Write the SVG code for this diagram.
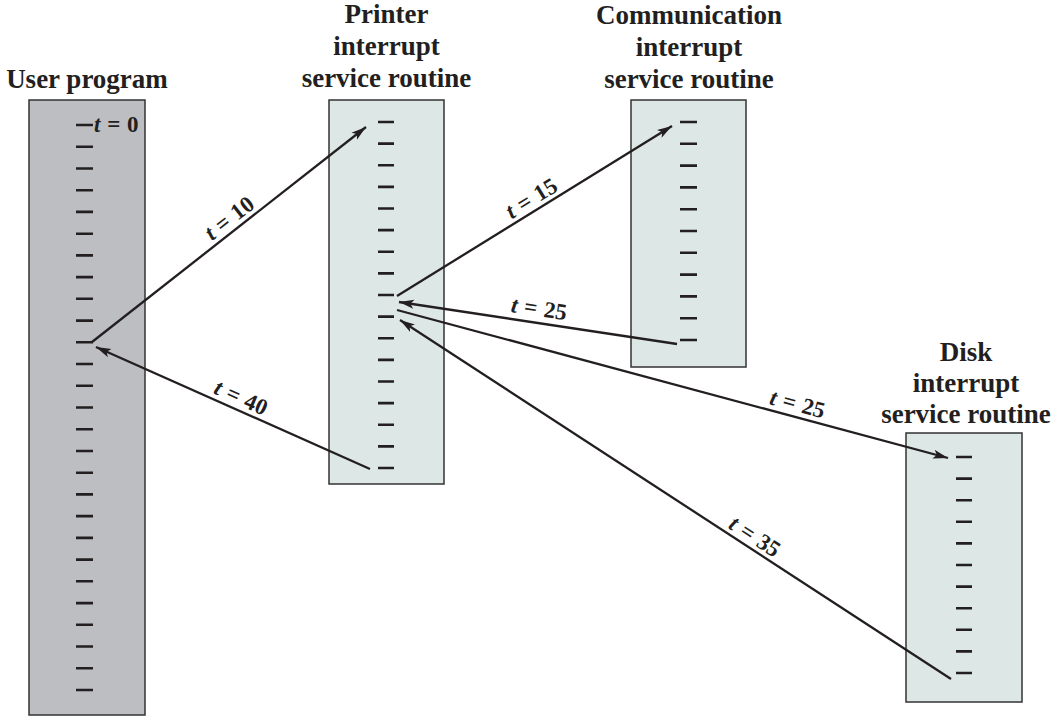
<svg xmlns="http://www.w3.org/2000/svg" width="1058" height="716" viewBox="0 0 1058 716">
<style>
.title{font-family:"Liberation Serif","Times New Roman",serif;font-weight:bold;font-size:27px;fill:#231f20;text-anchor:middle}
.lbl{font-family:"Liberation Serif","Times New Roman",serif;font-weight:bold;font-size:23px;word-spacing:1px;fill:#231f20;text-anchor:middle}
.it{font-style:italic}
.box{stroke:#333;stroke-width:1.5}
.ticks{stroke:#231f20;stroke-width:2.6;fill:none}
.conn{stroke:#231f20;stroke-width:2.3;fill:none}
</style>
<defs>
<marker id="ah" markerUnits="userSpaceOnUse" markerWidth="16" markerHeight="10" refX="15" refY="5" orient="auto">
<path d="M0,0.5 L15,5 L0,9.5 L3.5,5 z" fill="#231f20"/>
</marker>
</defs>
<rect width="1058" height="716" fill="#fff"/>
<g id="user-program">
<rect class="box" x="29" y="100" width="116" height="615" fill="#bdbec2"/>
<text class="title" x="87" y="88">User program</text>
<path class="ticks" d="M76 125h17M76 146.7h17M76 168.5h17M76 190.2h17M76 211.9h17M76 233.7h17M76 255.4h17M76 277.1h17M76 298.8h17M76 320.6h17M76 342.3h17M76 364h17M76 385.8h17M76 407.5h17M76 429.2h17M76 451h17M76 472.7h17M76 494.4h17M76 516.1h17M76 537.9h17M76 559.6h17M76 581.3h17M76 603.1h17M76 624.8h17M76 646.5h17M76 668.3h17M76 690h17"/>
<text class="lbl" x="94" y="132" style="text-anchor:start"><tspan class="it">t</tspan> = 0</text>
</g>
<g id="printer-isr">
<rect class="box" x="329" y="100" width="115" height="384" fill="#dde7e6"/>
<text class="title" x="386.5" y="23">Printer</text>
<text class="title" x="386.5" y="55">interrupt</text>
<text class="title" x="386.5" y="87">service routine</text>
<path class="ticks" d="M378 122h16M378 143.6h16M378 165.3h16M378 186.9h16M378 208.5h16M378 230.1h16M378 251.8h16M378 273.4h16M378 295h16M378 316.6h16M378 338.3h16M378 359.9h16M378 381.5h16M378 403.1h16M378 424.8h16M378 446.4h16M378 468h16"/>
</g>
<g id="communication-isr">
<rect class="box" x="631" y="100" width="115" height="267" fill="#dde7e6"/>
<text class="title" x="689" y="24">Communication</text>
<text class="title" x="689" y="56">interrupt</text>
<text class="title" x="689" y="88">service routine</text>
<path class="ticks" d="M680 122h17M680 143.8h17M680 165.6h17M680 187.4h17M680 209.2h17M680 231h17M680 252.8h17M680 274.6h17M680 296.4h17M680 318.2h17M680 340h17"/>
</g>
<g id="disk-isr">
<rect class="box" x="906" y="433" width="116" height="269" fill="#dde7e6"/>
<text class="title" x="966" y="361">Disk</text>
<text class="title" x="966" y="392">interrupt</text>
<text class="title" x="966" y="423">service routine</text>
<path class="ticks" d="M956 457h16M956 478.6h16M956 500.2h16M956 521.8h16M956 543.4h16M956 565h16M956 586.6h16M956 608.2h16M956 629.8h16M956 651.4h16M956 673h16"/>
</g>
<g id="connectors">
<line class="conn" x1="92" y1="342" x2="366" y2="127" marker-end="url(#ah)"/>
<line class="conn" x1="370" y1="469" x2="96" y2="347" marker-end="url(#ah)"/>
<line class="conn" x1="397" y1="296" x2="672" y2="126" marker-end="url(#ah)"/>
<line class="conn" x1="677" y1="344" x2="399" y2="302" marker-end="url(#ah)"/>
<line class="conn" x1="397" y1="310" x2="948" y2="458" marker-end="url(#ah)"/>
<line class="conn" x1="951" y1="679" x2="400" y2="320" marker-end="url(#ah)"/>
<text class="lbl" transform="translate(237,228) rotate(-38.1)" y="-5"><tspan class="it">t</tspan> = 10</text>
<text class="lbl" transform="translate(236,409) rotate(24)" y="-5"><tspan class="it">t</tspan> = 40</text>
<text class="lbl" transform="translate(538,209) rotate(-31.7)" y="-5"><tspan class="it">t</tspan> = 15</text>
<text class="lbl" transform="translate(537,323) rotate(8.6)" y="-7"><tspan class="it">t</tspan> = 25</text>
<text class="lbl" transform="translate(794,417) rotate(15)" y="-6"><tspan class="it">t</tspan> = 25</text>
<text class="lbl" transform="translate(748,547) rotate(33.1)" y="-5"><tspan class="it">t</tspan> = 35</text>
</g>
</svg>
